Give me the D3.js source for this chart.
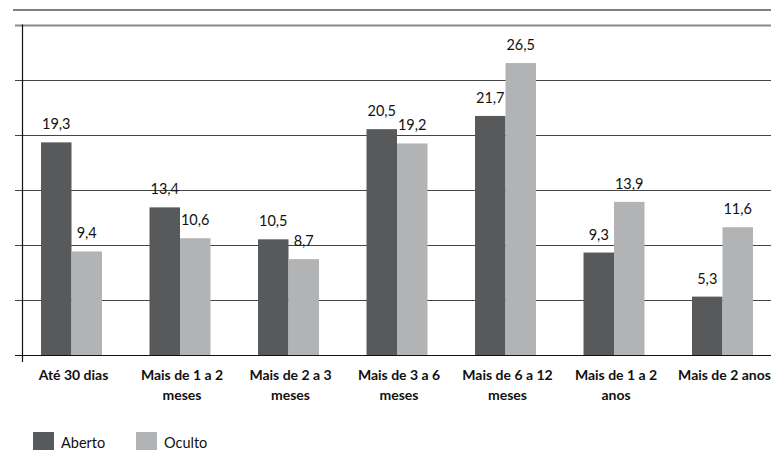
<!DOCTYPE html>
<html>
<head>
<meta charset="utf-8">
<script src="https://cdn.jsdelivr.net/npm/d3@7"></script>
<style>
  html, body { margin: 0; padding: 0; background: #fff; }
  svg { display: block; font-family: Lato, "Open Sans", sans-serif; }
</style>
</head>
<body>
<svg id="chart" width="771" height="463"></svg>
<script>
// Categories (period), each split into two lines for the axis labels
const categories = [
  ["Até 30 dias"],
  ["Mais de 1 a 2", "meses"],
  ["Mais de 2 a 3", "meses"],
  ["Mais de 3 a 6", "meses"],
  ["Mais de 6 a 12", "meses"],
  ["Mais de 1 a 2", "anos"],
  ["Mais de 2 anos"]
];
const seriesNames = ["Aberto", "Oculto"];
const aberto = [19.3, 13.4, 10.5, 20.5, 21.7, 9.3, 5.3];
const oculto = [9.4, 10.6, 8.7, 19.2, 26.5, 13.9, 11.6];
const yTicks = [0, 5, 10, 15, 20, 25, 30];
const colors = ["#58595b", "#b2b3b5"];

const svg = d3.select("#chart");
const W = 771;
const keys = categories.map(c => c.join(" "));
const values = [aberto, oculto];

const x = d3.scaleBand().domain(keys).range([17.25, 776.75])
  .paddingInner(0.438).paddingOuter(0.219);
const xs = d3.scaleBand().domain(seriesNames).range([0, x.bandwidth()]);
const y = d3.scaleLinear().domain([0, 30]).range([355, 24.5]);

const axisX = 22;

// rule under the heading
svg.append("line").attr("x1", 13).attr("x2", W).attr("y1", 10).attr("y2", 10)
  .attr("stroke", "#555").attr("stroke-width", 1.6);

// horizontal gridlines with left tick marks
svg.append("g").selectAll("line").data(yTicks.filter(t => t > 0)).join("line")
  .attr("x1", 15).attr("x2", W)
  .attr("y1", d => Math.round(y(d)) + 0.5).attr("y2", d => Math.round(y(d)) + 0.5)
  .attr("stroke", d => d === 30 ? "#8a8a8a" : "#444")
  .attr("stroke-width", d => d === 30 ? 2 : 1);

// bars
const groups = svg.append("g").selectAll("g").data(keys).join("g")
  .attr("transform", d => `translate(${x(d)},0)`);

seriesNames.forEach((s, si) => {
  groups.append("rect")
    .attr("x", xs(s))
    .attr("width", xs.bandwidth())
    .attr("y", (d, i) => y(values[si][i]))
    .attr("height", (d, i) => y(0) - y(values[si][i]))
    .attr("fill", colors[si]);
  groups.append("text")
    .attr("x", xs(s) + xs.bandwidth() / 2)
    .attr("y", (d, i) => y(values[si][i]) - 13)
    .attr("text-anchor", "middle")
    .attr("font-size", 14.5)
    .attr("fill", "#111")
    .text((d, i) => d3.format(".1f")(values[si][i]).replace(".", ","));
});

// baseline and vertical axis
svg.append("line").attr("x1", 15).attr("x2", W)
  .attr("y1", Math.round(y(0)) + 0.5).attr("y2", Math.round(y(0)) + 0.5)
  .attr("stroke", "#111").attr("stroke-width", 1.2);
svg.append("line").attr("x1", axisX + 0.5).attr("x2", axisX + 0.5)
  .attr("y1", y(30)).attr("y2", 362)
  .attr("stroke", "#111").attr("stroke-width", 1.2);

// category labels
const lab = svg.append("g").selectAll("text").data(categories).join("text")
  .attr("x", (d, i) => x(keys[i]) + x.bandwidth() / 2 + 2)
  .attr("y", 380)
  .attr("text-anchor", "middle")
  .attr("font-size", 14)
  .attr("font-weight", "bold")
  .attr("fill", "#111");
lab.selectAll("tspan").data(d => d).join("tspan")
  .attr("x", function () { return this.parentNode.getAttribute("x"); })
  .attr("dy", (d, i) => i === 0 ? 0 : 19.5)
  .text(d => d);

// legend
const leg = svg.append("g").selectAll("g").data(seriesNames).join("g")
  .attr("transform", (d, i) => `translate(${33 + i * 103},432)`);
leg.append("rect").attr("width", 21).attr("height", 18).attr("fill", (d, i) => colors[i]);
leg.append("text").attr("x", 28).attr("y", 15.5).attr("font-size", 14.5)
  .attr("fill", "#111").text(d => d);
</script>
</body>
</html>
